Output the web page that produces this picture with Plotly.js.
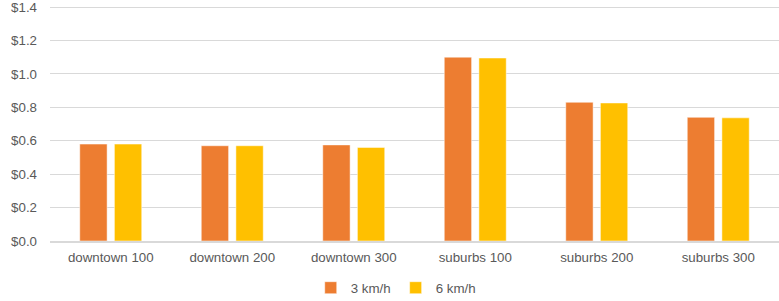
<!DOCTYPE html>
<html>
<head>
<meta charset="utf-8">
<script src="https://cdn.plot.ly/plotly-3.0.1.min.js"></script>
<style>html,body{margin:0;padding:0;background:#fff;}#chart{width:779px;height:301px;}</style>
</head>
<body>
<div id="chart"></div>
<script>
var categories = ["downtown 100", "downtown 200", "downtown 300", "suburbs 100", "suburbs 200", "suburbs 300"];
var series3kmh = [0.58, 0.57, 0.575, 1.10, 0.83, 0.74];
var series6kmh = [0.58, 0.57, 0.56, 1.095, 0.826, 0.737];
var seriesNames = ["3 km/h", "6 km/h"];
var yTickVals = [0, 0.2, 0.4, 0.6, 0.8, 1.0, 1.2, 1.4];
var yTickText = ["$0.0", "$0.2", "$0.4", "$0.6", "$0.8", "$1.0", "$1.2", "$1.4"];

var font = {family: "Liberation Sans, Arial, sans-serif", size: 13.3, color: "#595959"};

var traces = [
  {type: "bar", name: seriesNames[0], x: categories, y: series3kmh,
   marker: {color: "#ED7D31", line: {color: "#FFFFFF", width: 0.5}}, hoverinfo: "y"},
  {type: "bar", name: seriesNames[1], x: categories, y: series6kmh,
   marker: {color: "#FFC000", line: {color: "#FFFFFF", width: 0.5}}, hoverinfo: "y"}
];

var layout = {
  width: 779, height: 301,
  margin: {l: 50, r: 0, t: 0, b: 60},
  paper_bgcolor: "#FFFFFF", plot_bgcolor: "#FFFFFF",
  font: font,
  barmode: "group",
  bargap: 0.43,
  bargroupgap: 0.21,
  xaxis: {
    type: "category",
    showgrid: false,
    showline: true, linecolor: "#D9D9D9", linewidth: 1.5,
    ticks: "", tickfont: font, ticklabelstandoff: 4
  },
  yaxis: {
    range: [0, 1.442],
    tickvals: yTickVals, ticktext: yTickText,
    showgrid: true, gridcolor: "#D9D9D9", gridwidth: 1,
    zeroline: false, showline: false,
    ticks: "", tickfont: font, ticklabelstandoff: 12,
    ticklabeloverflow: "allow"
  },
  showlegend: true,
  legend: {
    orientation: "h",
    xref: "container", yref: "container",
    x: 0.508, xanchor: "center",
    y: 0.043, yanchor: "middle",
    font: font,
    itemwidth: 30,
    traceorder: "normal"
  }
};

Plotly.newPlot("chart", traces, layout, {displayModeBar: false, staticPlot: true});
</script>
</body>
</html>
